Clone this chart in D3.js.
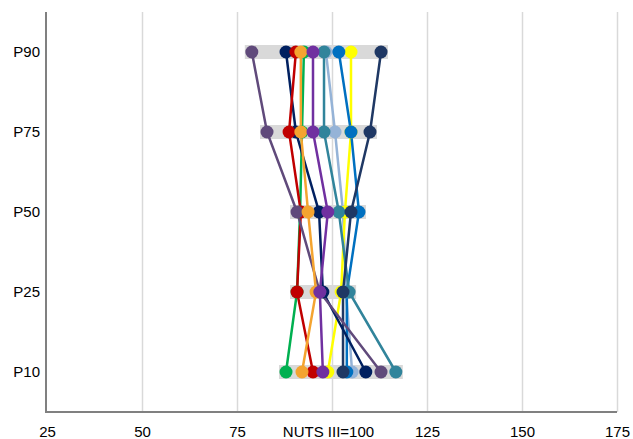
<!DOCTYPE html>
<html>
<head>
<meta charset="utf-8">
<script src="https://cdn.jsdelivr.net/npm/d3@7"></script>
<style>
body { margin: 0; background: #fff; }
text { font-family: "Liberation Sans", Arial, sans-serif; }
</style>
</head>
<body>
<svg id="chart" width="633" height="439"></svg>
<script>
const categories = ["P90", "P75", "P50", "P25", "P10"];
const xTicks = [25, 50, 75, 100, 125, 150, 175];

// values per series, in category order P90, P75, P50, P25, P10
const lightBlue  = [98.4, 100.8, 102.9, 103.7, 105.3];
const yellow     = [105.0, 105.0, 103.4, 102.4, 98.9];
const blue       = [101.8, 105.0, 107.1, 103.9, 103.9];
const teal       = [97.9, 97.9, 101.8, 104.5, 116.8];
const darkBlue   = [112.9, 110.0, 105.0, 102.9, 102.9];
const green      = [92.6, 92.1, 91.6, 90.8, 87.9];
const navy       = [87.9, 90.5, 96.6, 97.6, 108.9];
const red        = [90.5, 88.7, 91.8, 90.8, 95.0];
const darkPurple = [78.9, 82.9, 90.8, 96.8, 112.9];
const orange     = [91.8, 91.8, 93.7, 95.8, 92.1];
const purple     = [95.0, 95.0, 98.9, 96.8, 97.6];

const seriesValues = [lightBlue, yellow, blue, teal, darkBlue, green, navy, red, darkPurple, orange, purple];
const seriesColors = ["#95b3d7", "#ffff00", "#0070c0", "#31849b", "#1f3864", "#00b050",
  "#002060", "#c00000", "#604a7b", "#f4a430", "#7030a0"];

const svg = d3.select("#chart");
const mLeft = 47, mRight = 617, mTop = 12, mBottom = 412;

const x = d3.scaleLinear().domain([25, 175]).range([mLeft, mRight]);
const y = d3.scalePoint().domain(categories).range([mTop, mBottom]).padding(0.5);

// gridlines
svg.append("g")
  .attr("transform", `translate(0,${mBottom})`)
  .call(d3.axisBottom(x).tickValues(xTicks.slice(1)).tickSize(-(mBottom - mTop)).tickFormat(""))
  .call(g => g.select(".domain").remove())
  .call(g => g.selectAll("line").attr("stroke", "#d9d9d9").attr("stroke-width", 1.5));

// x labels
svg.append("g")
  .attr("transform", `translate(0,${mBottom})`)
  .call(d3.axisBottom(x).tickValues(xTicks).tickSize(0).tickPadding(14.5)
    .tickFormat(d => d === 100 ? "NUTS III=100" : d))
  .call(g => g.select(".domain").remove())
  .call(g => g.selectAll("text").attr("font-size", 15).attr("fill", "#000")
    .attr("dx", d => d === 100 ? -4 : 0)
    .style("font-family", "'Liberation Sans', Arial, sans-serif"));

// y labels
svg.append("g")
  .attr("transform", `translate(${mLeft - 1},0)`)
  .call(d3.axisLeft(y).tickSize(0).tickPadding(6))
  .call(g => g.select(".domain").remove())
  .call(g => g.selectAll("text").attr("font-size", 15).attr("fill", "#000")
    .style("font-family", "'Liberation Sans', Arial, sans-serif"));

// axis lines
svg.append("line").attr("x1", mLeft - 1).attr("x2", mLeft - 1).attr("y1", mTop).attr("y2", mBottom)
  .attr("stroke", "#808080").attr("stroke-width", 2);
svg.append("line").attr("x1", mLeft - 2).attr("x2", mRight).attr("y1", mBottom).attr("y2", mBottom)
  .attr("stroke", "#808080").attr("stroke-width", 2);

// range bars
const ranges = categories.map((c, i) => ({
  cat: c,
  min: d3.min(seriesValues, s => s[i]),
  max: d3.max(seriesValues, s => s[i])
}));

svg.selectAll(".range")
  .data(ranges)
  .join("rect")
  .attr("class", "range")
  .attr("x", d => x(d.min) - 7)
  .attr("width", d => x(d.max) - x(d.min) + 14)
  .attr("y", d => y(d.cat) - 7)
  .attr("height", 14)
  .attr("fill", "#d9d9d9");

const line = d3.line()
  .x(d => x(d[1]))
  .y(d => y(d[0]));

svg.selectAll(".series")
  .data(seriesValues)
  .join("path")
  .attr("class", "series")
  .attr("d", s => line(s.map((v, i) => [categories[i], v])))
  .attr("fill", "none")
  .attr("stroke", (s, i) => seriesColors[i])
  .attr("stroke-width", 2.5);

seriesValues.forEach((s, k) => {
  svg.selectAll(".dot" + k)
    .data(s)
    .join("circle")
    .attr("class", "dot" + k)
    .attr("cx", d => x(d))
    .attr("cy", (d, i) => y(categories[i]))
    .attr("r", 6.5)
    .attr("fill", seriesColors[k]);
});
</script>
</body>
</html>
